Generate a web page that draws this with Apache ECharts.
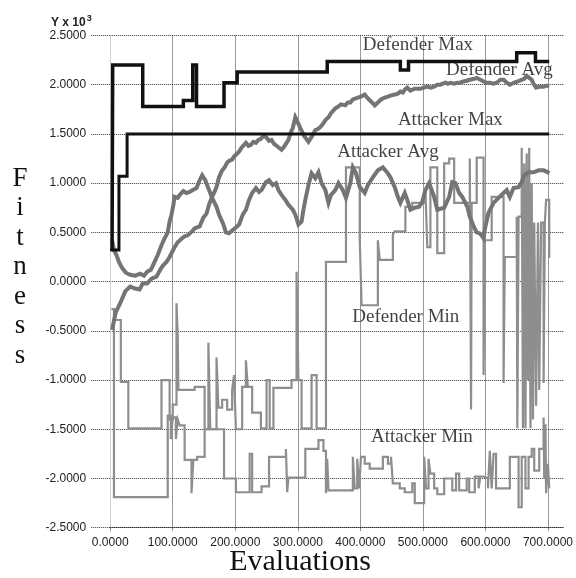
<!DOCTYPE html>
<html><head><meta charset="utf-8">
<script src="https://cdn.jsdelivr.net/npm/echarts@6/dist/echarts.min.js"></script>
<style>html,body{margin:0;padding:0;background:#fff}#c{width:576px;height:578px}</style>
</head><body><div id="c"></div>
<script>
// Axis ranges (values in thousands, "Y x 10^3")
const xRange = [0, 725];
const xStep = 100;
const yRange = [-2.5, 2.5];
const yStep = 0.5;
const xTitle = 'Evaluations';
const yTitle = 'Fitness';

// [evaluations, fitness (x10^3)]
const defenderMax = [[3,0.32],[4,2.2],[52,1.78],[117,1.84],[132,2.2],[138,1.78],[182,2.02],[203,2.13],[347,2.235],[464,2.15],[477,2.235],[650,2.325],[680,2.235],[702,2.235]];
const attackerMax = [[0,0.32],[14,1.07],[27,1.5],[702,1.5]];

const defenderAvg = [[3,-0.49],[9,-0.31],[16,-0.22],[24,-0.10],[32,-0.05],[40,-0.07],[47,-0.08],[52,-0.02],[59,-0.02],[66,0.03],[74,0.05],[80,0.12],[84,0.16],[90,0.2],[95,0.25],[99,0.3],[103,0.35],[108,0.4],[111,0.42],[115,0.44],[119,0.46],[124,0.47],[127,0.49],[131,0.51],[135,0.54],[139,0.55],[143,0.56],[147,0.62],[149,0.65],[154,0.69],[158,0.78],[162,0.85],[166,0.9],[170,0.96],[174,1.06],[179,1.13],[183,1.16],[187,1.21],[191,1.23],[195,1.24],[198,1.27],[201,1.29],[206,1.32],[210,1.36],[212,1.38],[217,1.41],[221,1.38],[225,1.39],[229,1.42],[233,1.41],[237,1.44],[241,1.45],[245,1.48],[249,1.47],[254,1.43],[258,1.44],[262,1.40],[266,1.38],[270,1.36],[274,1.34],[278,1.37],[281,1.38],[285,1.44],[289,1.52],[292,1.56],[296,1.67],[299,1.63],[301,1.61],[304,1.56],[306,1.54],[310,1.48],[313,1.46],[317,1.42],[320,1.45],[323,1.48],[328,1.54],[332,1.55],[336,1.57],[340,1.60],[344,1.64],[349,1.67],[353,1.71],[356,1.73],[360,1.76],[365,1.78],[369,1.80],[376,1.79],[380,1.82],[384,1.82],[388,1.85],[391,1.85],[396,1.87],[401,1.88],[404,1.87],[407,1.90],[412,1.86],[417,1.83],[420,1.81],[423,1.79],[428,1.82],[433,1.85],[436,1.84],[439,1.87],[444,1.88],[448,1.89],[451,1.88],[455,1.90],[460,1.91],[464,1.93],[468,1.92],[471,1.95],[475,1.97],[480,1.94],[483,1.95],[487,1.96],[491,1.96],[496,1.96],[499,1.98],[502,1.97],[507,1.98],[512,1.97],[515,1.99],[518,1.98],[523,2.00],[528,2.00],[532,2.01],[536,2.02],[540,2.01],[544,2.02],[550,2.01],[555,2.02],[559,2.02],[563,2.03],[566,2.03],[570,2.04],[575,2.05],[578,2.06],[582,2.06],[586,2.07],[589,2.05],[592,2.05],[598,2.03],[602,2.02],[607,2.02],[610,2.02],[613,2.01],[618,2.02],[621,2.04],[624,2.05],[629,2.05],[634,2.02],[639,2.00],[642,2.01],[645,2.02],[650,2.03],[653,2.04],[658,2.05],[662,2.06],[666,2.09],[670,2.07],[674,2.05],[677,2.01],[681,1.97],[684,1.98],[687,1.98],[690,1.97],[693,1.98],[697,1.99],[702,1.99]];

const attackerAvg = [[3,0.42],[6,0.32],[10,0.27],[14,0.20],[19,0.14],[25,0.09],[32,0.07],[40,0.06],[48,0.08],[54,0.06],[59,0.10],[65,0.12],[71,0.20],[76,0.27],[82,0.37],[87,0.44],[92,0.50],[95,0.61],[98,0.68],[101,0.78],[103,0.86],[108,0.85],[111,0.88],[117,0.92],[122,0.90],[127,0.91],[132,0.93],[138,0.95],[143,1.03],[147,1.08],[152,1.03],[155,0.98],[160,0.90],[163,0.85],[170,0.76],[174,0.68],[181,0.58],[185,0.50],[190,0.49],[195,0.52],[201,0.55],[206,0.58],[212,0.68],[217,0.73],[222,0.83],[227,0.90],[233,0.95],[238,0.91],[242,0.93],[249,1.01],[254,1.03],[260,0.98],[265,1.00],[269,0.93],[274,0.88],[280,0.83],[285,0.78],[292,0.73],[296,0.68],[301,0.58],[306,0.61],[309,0.73],[312,0.83],[317,0.98],[322,1.10],[328,1.05],[333,1.11],[338,1.00],[344,0.93],[349,0.80],[353,0.88],[360,0.93],[365,1.00],[372,0.93],[377,0.85],[384,1.00],[388,1.16],[393,1.10],[399,0.96],[407,0.90],[412,0.98],[420,1.06],[428,1.13],[436,1.16],[444,1.10],[448,1.06],[455,0.96],[460,0.86],[464,0.80],[471,0.90],[475,0.83],[480,0.73],[487,0.75],[494,0.76],[499,0.81],[504,0.93],[510,1.00],[518,0.86],[523,0.73],[534,0.75],[542,0.86],[547,1.01],[552,1.00],[558,0.90],[563,0.86],[571,0.76],[575,0.66],[582,0.55],[586,0.50],[591,0.49],[597,0.44],[599,0.53],[605,0.70],[613,0.80],[621,0.85],[629,0.90],[634,0.93],[639,0.86],[645,0.95],[653,0.96],[658,1.01],[662,1.08],[669,1.11],[677,1.11],[685,1.13],[693,1.13],[700,1.11],[702,1.10]];

const defenderMin = [[3,-0.39],[17,-1.02],[29,-1.49],[82,-1.0],[95,-1.4],[100,-1.25],[106,-0.22],[108,-0.55],[109,-1.1],[135,-1.07],[151,-1.5],[157,-0.62],[160,-1.5],[170,-0.77],[173,-1.28],[179,-1.2],[187,-1.3],[195,-1.1],[198,-0.95],[201,-1.5],[211,-1.07],[217,-0.8],[220,-1.07],[227,-1.33],[241,-1.49],[250,-1.0],[255,-1.49],[261,-1.08],[290,-1.0],[298,0.1],[301,-1.0],[306,-1.49],[322,-0.95],[330,-1.49],[345,0.2],[377,1.16],[399,0.44],[402,-0.24],[428,0.42],[431,0.22],[452,0.48],[455,0.51],[472,0.76],[483,0.8],[504,0.93],[507,0.35],[512,1.16],[523,0.29],[534,1.2],[542,1.25],[550,0.8],[575,1.25],[577,-1.3],[578,0.8],[586,1.26],[597,-0.95],[599,0.42],[610,0.86],[629,-1.03],[631,0.25],[650,0.66],[651,-1.49],[653,0.66],[658,1.36],[660,-1.49],[662,1.2],[664,-1.49],[666,1.3],[668,-1.0],[670,1.36],[672,-1.49],[674,1.0],[676,-1.4],[678,0.6],[681,-1.26],[684,0.6],[686,-1.1],[689,0.6],[693,-1.03],[695,0.6],[697,0.83],[702,0.24]];

const attackerMin = [[2,-0.28],[6,-2.19],[92,-1.36],[97,-1.6],[100,-1.38],[105,-1.6],[108,-1.4],[111,-1.46],[119,-1.81],[130,-2.15],[133,-1.81],[139,-1.78],[151,-1.5],[182,-2.0],[201,-2.14],[223,-1.75],[227,-2.14],[242,-2.08],[254,-1.78],[281,-1.7],[283,-2.14],[285,-1.99],[301,-1.99],[312,-1.7],[333,-1.61],[341,-1.72],[345,-2.15],[347,-1.8],[349,-2.12],[388,-1.78],[391,-2.1],[395,-1.8],[398,-2.1],[401,-1.78],[407,-1.85],[415,-1.9],[436,-1.78],[444,-1.85],[449,-1.78],[452,-2.05],[463,-2.1],[471,-2.14],[483,-2.05],[487,-2.25],[502,-1.78],[505,-2.1],[509,-1.8],[512,-1.95],[518,-2.1],[523,-2.16],[534,-2.0],[547,-2.12],[553,-1.95],[558,-2.12],[570,-2.0],[574,-2.14],[583,-1.98],[589,-2.1],[592,-1.98],[597,-2.0],[604,-2.1],[607,-1.72],[610,-2.1],[613,-1.75],[617,-2.1],[639,-1.78],[653,-2.29],[658,-1.78],[664,-2.1],[669,-1.78],[674,-1.7],[678,-1.92],[686,-1.7],[693,-1.38],[694,-2.0],[696,-1.45],[697,-2.15],[700,-1.85],[702,-2.1]];

// In-plot labels: [text, evaluations, fitness]
const annotations = [
  ['Defender Max', 404, 2.40],
  ['Defender Avg', 537, 2.15],
  ['Attacker Max', 460, 1.64],
  ['Attacker Avg', 363, 1.32],
  ['Defender Min', 387, -0.36],
  ['Attacker Min', 417, -1.58]
];

const chart = echarts.init(document.getElementById('c'));
const grid = '#333';
function lineSeries(name, data, color, width, step) {
  return { type: 'line', name, data, step: step || false, symbol: 'none', showSymbol: false,
           lineStyle: { color, width, join: 'miter' }, silent: true };
}
chart.setOption({
  animation: false,
  backgroundColor: '#fff',
  title: {
    text: '{a|Y x 10}{b|3}', left: 46, top: 9,
    textStyle: { rich: {
      a: { fontFamily: 'Liberation Sans', fontSize: 12, color: '#222', verticalAlign: 'bottom' },
      b: { fontFamily: 'Liberation Sans', fontSize: 9, color: '#222', verticalAlign: 'bottom', padding: [0, 0, 6, 1] }
    } }
  },
  graphic: [
    { type: 'text', x: 300, y: 562, silent: true,
      style: { text: xTitle, fontFamily: 'Liberation Serif', fontSize: 30, fill: '#111',
               align: 'center', verticalAlign: 'middle' } },
    { type: 'text', x: 20, y: 267, silent: true,
      style: { text: yTitle.split('').join('\n'), fontFamily: 'Liberation Serif', fontSize: 27, lineHeight: 29.5,
               fill: '#111', align: 'center', verticalAlign: 'middle' } }
  ],
  grid: { left: 110.2, right: 9.3, top: 35.5, bottom: 50.3 },
  xAxis: {
    type: 'value', min: xRange[0], max: xRange[1], interval: xStep,
    axisLine: { show: true, onZero: false, lineStyle: { color: grid, type: 'dotted' } },
    axisTick: { show: true, length: 4, lineStyle: { color: grid, type: 'dotted' } },
    axisLabel: { margin: 9, fontFamily: 'Liberation Sans', fontSize: 12, color: '#222', showMaxLabel: false,
                 formatter: v => (v % xStep === 0 ? v.toFixed(4) : '') },
    splitLine: { show: true, showMinLine: false, showMaxLine: false, lineStyle: { color: grid, type: 'dotted' } }
  },
  yAxis: {
    type: 'value', min: yRange[0], max: yRange[1], interval: yStep,
    axisLine: { show: true, onZero: false, lineStyle: { color: '#d0d0d0', width: 1 } },
    axisTick: { show: true, length: 20, lineStyle: { color: grid, type: 'dotted' } },
    axisLabel: { margin: 24, fontFamily: 'Liberation Sans', fontSize: 12, color: '#222',
                 formatter: v => v.toFixed(4) },
    splitLine: { show: true, showMinLine: false, lineStyle: { color: grid, type: 'dotted' } }
  },
  series: [
    lineSeries('Defender Min', defenderMin, '#8e8e8e', 2.2, 'end'),
    lineSeries('Attacker Min', attackerMin, '#8e8e8e', 2.2, 'end'),
    lineSeries('Attacker Avg', attackerAvg, '#747474', 4),
    lineSeries('Defender Avg', defenderAvg, '#747474', 4),
    lineSeries('Attacker Max', attackerMax, '#111', 3, 'end'),
    lineSeries('Defender Max', defenderMax, '#111', 3.5, 'end'),
    {
      type: 'scatter', name: 'labels', silent: true, symbolSize: 0, z: 10,
      data: annotations.map(a => ({ name: a[0], value: [a[1], a[2]] })),
      label: { show: true, position: 'right', distance: 0, formatter: '{b}',
               fontFamily: 'Liberation Serif', fontSize: 19, color: '#111' }
    }
  ]
});
</script>
</body></html>
